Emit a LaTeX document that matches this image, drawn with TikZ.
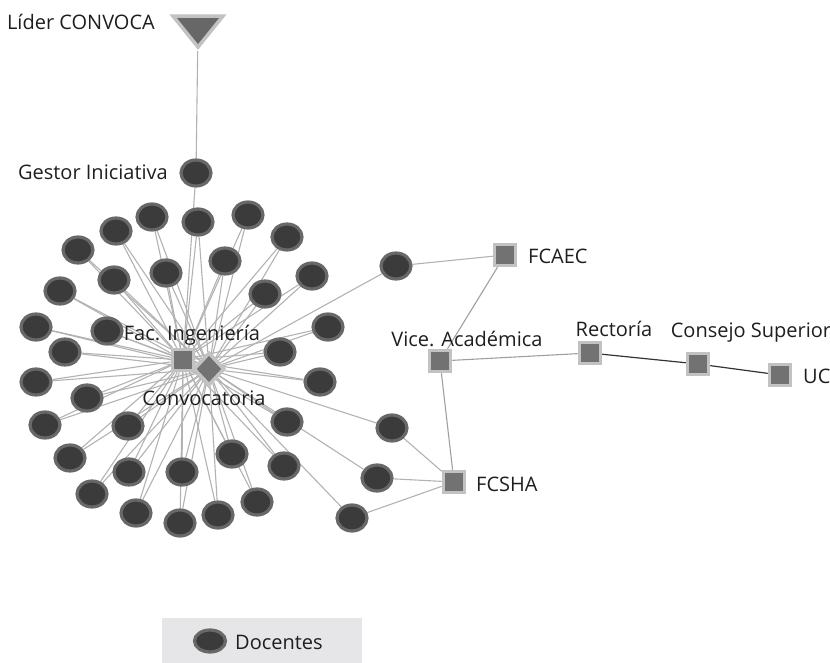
\documentclass[tikz,border=0pt]{standalone}
\usepackage{fontspec}
\setmainfont{Open Sans}
\usetikzlibrary{shapes.geometric,backgrounds}
\definecolor{edgec}{HTML}{B2B2B2}
\definecolor{docfill}{HTML}{3B3B3B}
\definecolor{docline}{HTML}{686868}
\definecolor{sqfill}{HTML}{727272}
\definecolor{sqline}{HTML}{C2C2C2}
\definecolor{legbg}{HTML}{E6E6E8}
\definecolor{txt}{HTML}{1E1E1E}
\tikzset{
  doc/.style={ellipse, draw=docline, fill=docfill, line width=3.2pt, minimum width=30pt, minimum height=26pt, inner sep=0pt},
  sq/.style={rectangle, draw=sqline, fill=sqfill, line width=3.5pt, minimum size=21pt, inner sep=0pt},
  lbl/.style={text=txt, font=\fontsize{20}{22}\selectfont, inner sep=0pt},
  edge/.style={draw=edgec, line width=1.1pt},
  medge/.style={draw=gray!75, line width=1.1pt},
  dedge/.style={draw=black!80, line width=1.2pt}
}
\begin{document}
\begin{tikzpicture}[x=1pt,y=-1pt]
\useasboundingbox (0,0) rectangle (830,663);
% hubs
\node[sq] (fac) at (183,360) {};
\node[diamond, draw=sqline, fill=sqfill, line width=3.5pt, minimum width=31pt, minimum height=33pt, inner sep=0pt] (conv) at (209,369) {};
% leader triangle
\node[isosceles triangle, isosceles triangle stretches, shape border rotate=-90, draw=sqline, fill=sqfill!90!black, line width=3.5pt, minimum width=50pt, minimum height=31pt, inner sep=0pt] (lider) at (198,28) {};
% docentes
\node[doc] (g) at (196,173) {};
\foreach \n/\x/\y in {1/152/217,2/198/222,3/248/215,4/287/237,5/78/250,6/116/231,7/166/273,8/225/261,9/114/280,10/265/294,11/312/276,12/60/291,13/36/327,14/107/331,15/328/327,16/396/266,
17/65/352,18/280/352,19/36/382,20/87/398,21/320/382,22/45/425,23/128/426,24/287/422,25/392/428,26/70/458,27/129/472,28/182/472,29/232/454,30/284/466,31/377/478,32/92/494,33/136/513,34/180/523,35/218/515,36/257/502,37/352/518}
  \node[doc] (d\n) at (\x,\y) {};
% squares
\node[sq] (fcaec) at (505,255) {};
\node[sq] (vice) at (440,361) {};
\node[sq] (rect) at (590,353) {};
\node[sq] (cons) at (698,364) {};
\node[sq] (uc) at (780,375) {};
\node[sq] (fcsha) at (454,482) {};
% labels
\node[lbl, anchor=east] at (155,22) {Líder CONVOCA};
\node[lbl, anchor=east] at (168,172) {Gestor Iniciativa};
\node[lbl] at (192,335) {Fac. Ingeniería};
\node[lbl] at (204,398) {Convocatoria};
\node[lbl, anchor=west] at (528,256) {FCAEC};
\node[lbl] at (467,339) {Vice. Académica};
\node[lbl] at (614,329) {Rectoría};
\node[lbl] at (751,333) {Consejo Superior};
\node[lbl, anchor=west] at (803,376) {UC};
\node[lbl, anchor=west] at (476,484) {FCSHA};
% legend
\node[fill=legbg, minimum width=200pt, minimum height=45pt, inner sep=0pt] (leg) at (262,640.5) {};
\node[doc, minimum width=31pt, minimum height=22pt] (legdoc) at (210,641) {};
\node[lbl, anchor=west] at (235,642) {Docentes};
% edges
\begin{pgfonlayer}{background}
\draw[edge] (lider) -- (g);
\draw[edge] (g) -- (fac);
\foreach \n in {1,2,3,4,5,6,7,8,9,10,11,12,13,14,15,17,18,19,20,21,22,23,24,26,27,28,29,30,32,33,34,35,36}{
  \draw[edge] (d\n) -- (fac);
  \draw[edge] (d\n) -- (conv);
}
\foreach \n in {16,25,31,37}{ \draw[edge] (d\n) -- (conv); }
\draw[edge] (d16) -- (fcaec);
\foreach \n in {25,31,37}{ \draw[edge] (d\n) -- (fcsha); }
\draw[medge] (vice) -- (fcaec);
\draw[medge] (vice) -- (fcsha);
\draw[medge] (vice) -- (rect);
\draw[dedge] (rect) -- (cons);
\draw[dedge] (cons) -- (uc);
\end{pgfonlayer}
\end{tikzpicture}
\end{document}
